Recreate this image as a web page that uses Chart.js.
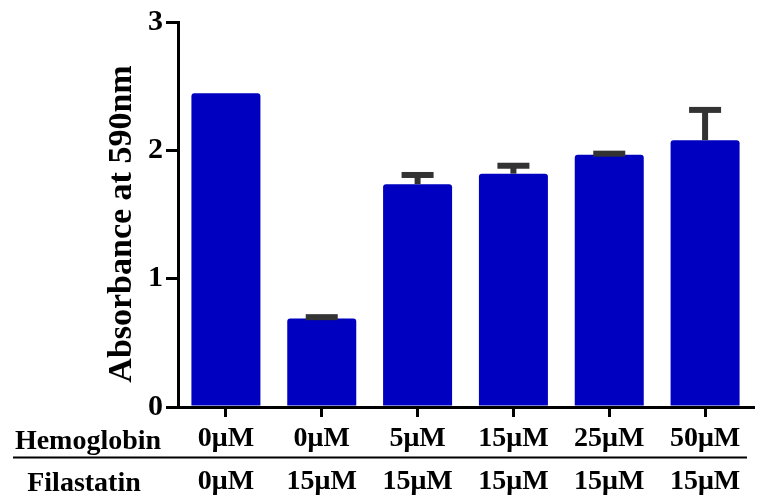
<!DOCTYPE html>
<html>
<head>
<meta charset="utf-8">
<title>Absorbance at 590nm</title>
<script src="https://cdn.jsdelivr.net/npm/chart.js@4.4.1/dist/chart.umd.min.js"></script>
<style>
  html, body { margin: 0; padding: 0; background: #ffffff; }
  #wrap { width: 766px; height: 497px; }
</style>
</head>
<body>
<div id="wrap"><canvas id="chart" width="766" height="497"></canvas></div>
<script>
// Treatment groups
const hemoglobin = ['0μM', '0μM', '5μM', '15μM', '25μM', '50μM'];
const filastatin = ['0μM', '15μM', '15μM', '15μM', '15μM', '15μM'];

// Mean absorbance and the upper error (SEM) per group
const absorbance = [2.445, 0.69, 1.736, 1.818, 1.966, 2.079];
const errorUp    = [0, 0.01, 0.072, 0.062, 0.008, 0.236];

// Y axis tick values
const yTicks = [0, 1, 2, 3];

const yTitle = 'Absorbance at 590nm';
const serif = '"Liberation Serif", "Times New Roman", Times, serif';
const BAR_BLUE = 'rgb(0, 0, 192)';

// One-sided error bars drawn above each bar
const errorBars = {
  id: 'errorBars',
  afterDatasetsDraw(chart) {
    const { ctx, scales: { y } } = chart;
    const meta = chart.getDatasetMeta(0);
    ctx.save();
    ctx.fillStyle = '#333333';
    meta.data.forEach((bar, i) => {
      const e = errorUp[i];
      if (!e) return;
      const yTop = y.getPixelForValue(absorbance[i] + e);
      const yBar = y.getPixelForValue(absorbance[i]);
      ctx.fillRect(bar.x - 3, yTop, 6, yBar - yTop);
      ctx.fillRect(bar.x - 16, yTop - 3, 32, 6);
    });
    ctx.restore();
  }
};

// Y axis title, row captions and the rule between the two treatment rows
const annotations = {
  id: 'annotations',
  afterDraw(chart) {
    const { ctx } = chart;
    ctx.save();
    ctx.fillStyle = '#000000';

    ctx.save();
    ctx.translate(122, 224);
    ctx.rotate(-Math.PI / 2);
    ctx.font = 'bold 34px ' + serif;
    ctx.textAlign = 'center';
    ctx.textBaseline = 'middle';
    ctx.fillText(yTitle, 0, 0);
    ctx.restore();

    ctx.font = 'bold 28px ' + serif;
    ctx.textAlign = 'center';
    ctx.textBaseline = 'alphabetic';
    ctx.fillText('Hemoglobin', 88, 449);
    ctx.fillText('Filastatin', 84, 491);

    ctx.strokeStyle = '#000000';
    ctx.lineWidth = 2;
    ctx.beginPath();
    ctx.moveTo(13, 457.5);
    ctx.lineTo(747, 457.5);
    ctx.stroke();
    ctx.restore();
  }
};

new Chart(document.getElementById('chart'), {
  type: 'bar',
  data: {
    labels: hemoglobin.map((h, i) => [h, filastatin[i]]),
    datasets: [{
      data: absorbance,
      backgroundColor: BAR_BLUE,
      borderWidth: 0,
      borderRadius: { topLeft: 3, topRight: 3, bottomLeft: 0, bottomRight: 0 },
      borderSkipped: 'start',
      barPercentage: 0.72,
      categoryPercentage: 1.0
    }]
  },
  options: {
    responsive: false,
    devicePixelRatio: 1,
    animation: false,
    layout: { padding: { top: 22, right: 13, bottom: 0, left: 0 } },
    plugins: {
      legend: { display: false },
      tooltip: { enabled: false }
    },
    scales: {
      x: {
        z: 1,
        offset: true,
        grid: {
          offset: false,
          drawOnChartArea: false,
          drawTicks: true,
          tickLength: 10,
          lineWidth: 3,
          color: '#000000'
        },
        border: { display: true, width: 3, color: '#000000' },
        ticks: {
          color: '#000000',
          font: { family: serif, size: 28, weight: 'bold', lineHeight: 1.535 },
          padding: 0,
          maxRotation: 0,
          autoSkip: false
        },
        afterFit(scale) { scale.height = 90; }
      },
      y: {
        z: 1,
        min: 0,
        max: 3,
        afterBuildTicks(scale) { scale.ticks = yTicks.map(v => ({ value: v })); },
        grid: {
          drawOnChartArea: false,
          drawTicks: true,
          tickLength: 12,
          lineWidth: 3,
          color: '#000000'
        },
        border: { display: true, width: 3, color: '#000000' },
        ticks: {
          color: '#000000',
          font: { family: serif, size: 30, weight: 'bold' },
          padding: 3
        },
        afterFit(scale) { scale.width = 178; }
      }
    }
  },
  plugins: [errorBars, annotations]
});
</script>
</body>
</html>
